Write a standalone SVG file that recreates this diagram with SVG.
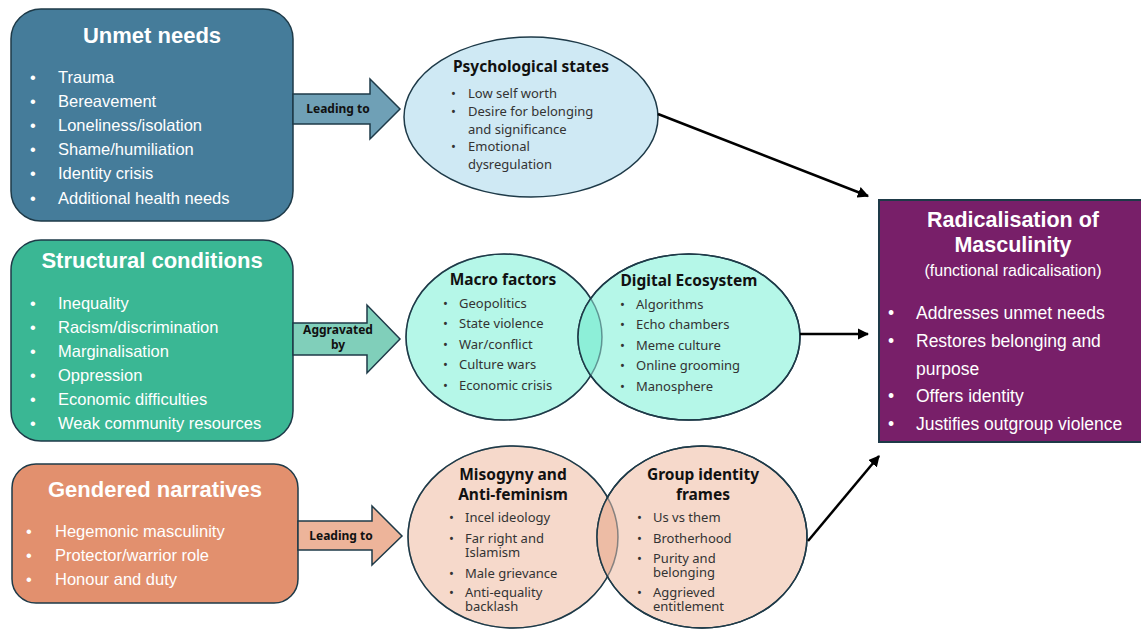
<svg xmlns="http://www.w3.org/2000/svg" width="1141" height="630" viewBox="0 0 1141 630">
<defs>
<marker id="ah" viewBox="0 0 10 10" refX="9" refY="5" markerWidth="4.5" markerHeight="4.5" orient="auto" markerUnits="strokeWidth">
<path d="M0,0 L10,5 L0,10 z" fill="#000"/>
</marker>
<clipPath id="c2l"><ellipse cx="504" cy="337" rx="98" ry="83"/></clipPath>
<clipPath id="c3l"><ellipse cx="513" cy="537" rx="105" ry="91"/></clipPath>
</defs>
<style>
.box{stroke:#1E3A48;stroke-width:1.5}
.ttl{font-family:"Liberation Sans",Arial,sans-serif;font-weight:bold;fill:#fff;text-anchor:middle}
.bt{font-family:"Liberation Sans",Arial,sans-serif;font-size:16.5px;fill:#fff}
.arr{stroke:#1E3A48;stroke-width:1.5}
.al{font-family:"Noto Sans",sans-serif;font-weight:bold;font-size:12px;fill:#111;text-anchor:middle}
.ell{stroke:#1E3A48;stroke-width:1.5}
.et{font-family:"Noto Sans",sans-serif;font-weight:bold;font-size:15.5px;fill:#111;text-anchor:middle}
.eb{font-family:"Noto Sans",sans-serif;font-size:13px;fill:#333}
.con{stroke:#000;stroke-width:2.5;fill:none;marker-end:url(#ah)}
</style>

<g id="unmet-needs">
<rect class="box" x="11" y="9" width="282" height="212" rx="30" fill="#457C9A"/>
<text class="ttl" x="152" y="43" font-size="22">Unmet needs</text>
<g class="bt">
<text x="30" y="83">•</text><text x="58" y="83">Trauma</text>
<text x="30" y="107">•</text><text x="58" y="107">Bereavement</text>
<text x="30" y="131">•</text><text x="58" y="131">Loneliness/isolation</text>
<text x="30" y="155">•</text><text x="58" y="155">Shame/humiliation</text>
<text x="30" y="179">•</text><text x="58" y="179">Identity crisis</text>
<text x="30" y="204">•</text><text x="58" y="204">Additional health needs</text>
</g>
</g>

<g id="arrow-leading-1">
<polygon class="arr" points="293,94 370,94 370,79 400,109 370,139 370,124 293,124" fill="#6FA0B6"/>
<text class="al" x="338" y="113">Leading to</text>
</g>

<g id="psychological-states">
<ellipse class="ell" cx="531" cy="117" rx="127" ry="80" fill="#CFE9F4"/>
<text class="et" x="531" y="72">Psychological states</text>
<g class="eb">
<text x="451" y="98">•</text><text x="468" y="98">Low self worth</text>
<text x="451" y="116">•</text><text x="468" y="116">Desire for belonging<tspan x="468" dy="18">and significance</tspan></text>
<text x="451" y="151">•</text><text x="468" y="151">Emotional<tspan x="468" dy="18">dysregulation</tspan></text>
</g>
</g>

<g id="structural-conditions">
<rect class="box" x="11" y="240" width="282" height="201" rx="30" fill="#3AB794"/>
<text class="ttl" x="152" y="268" font-size="22">Structural conditions</text>
<g class="bt">
<text x="30" y="309">•</text><text x="58" y="309">Inequality</text>
<text x="30" y="333">•</text><text x="58" y="333">Racism/discrimination</text>
<text x="30" y="357">•</text><text x="58" y="357">Marginalisation</text>
<text x="30" y="381">•</text><text x="58" y="381">Oppression</text>
<text x="30" y="405">•</text><text x="58" y="405">Economic difficulties</text>
<text x="30" y="429">•</text><text x="58" y="429">Weak community resources</text>
</g>
</g>

<g id="arrow-aggravated">
<polygon class="arr" points="293,323 367,323 367,305 400,339 367,373 367,355 293,355" fill="#80CFBA"/>
<text class="al" x="338" y="334">Aggravated<tspan x="338" dy="15">by</tspan></text>
</g>

<g id="macro-digital">
<ellipse class="ell" cx="504" cy="337" rx="98" ry="83" fill="#B5F7E8"/>
<ellipse class="ell" cx="689" cy="337" rx="111" ry="83" fill="#B5F7E8"/>
<ellipse cx="689" cy="337" rx="111" ry="83" fill="#8DEFD8" clip-path="url(#c2l)"/>
<ellipse cx="504" cy="337" rx="98" ry="83" fill="none" stroke="#1E3A48" stroke-width="1.5" stroke-opacity="0.5"/>
<ellipse cx="689" cy="337" rx="111" ry="83" fill="none" stroke="#1E3A48" stroke-width="1.5"/>
<text class="et" x="503" y="285">Macro factors</text>
<text class="et" x="689" y="286">Digital Ecosystem</text>
<g class="eb">
<text x="443" y="308">•</text><text x="459" y="308">Geopolitics</text>
<text x="443" y="328">•</text><text x="459" y="328">State violence</text>
<text x="443" y="349">•</text><text x="459" y="349">War/conflict</text>
<text x="443" y="369">•</text><text x="459" y="369">Culture wars</text>
<text x="443" y="390">•</text><text x="459" y="390">Economic crisis</text>
<text x="620" y="309">•</text><text x="636" y="309">Algorithms</text>
<text x="620" y="329">•</text><text x="636" y="329">Echo chambers</text>
<text x="620" y="350">•</text><text x="636" y="350">Meme culture</text>
<text x="620" y="370">•</text><text x="636" y="370">Online grooming</text>
<text x="620" y="391">•</text><text x="636" y="391">Manosphere</text>
</g>
</g>

<g id="gendered-narratives">
<rect class="box" x="12" y="464" width="286" height="139" rx="24" fill="#E2906E"/>
<text class="ttl" x="155" y="497" font-size="22">Gendered narratives</text>
<g class="bt">
<text x="26" y="537">•</text><text x="55" y="537">Hegemonic masculinity</text>
<text x="26" y="561">•</text><text x="55" y="561">Protector/warrior role</text>
<text x="26" y="585">•</text><text x="55" y="585">Honour and duty</text>
</g>
</g>

<g id="arrow-leading-3">
<polygon class="arr" points="298,521 372,521 372,506 402,536 372,565 372,550 298,550" fill="#EDB49A"/>
<text class="al" x="341" y="540">Leading to</text>
</g>

<g id="misogyny-group">
<ellipse class="ell" cx="513" cy="537" rx="105" ry="91" fill="#F6D9CB"/>
<ellipse class="ell" cx="702" cy="537" rx="105" ry="91" fill="#F6D9CB"/>
<ellipse cx="702" cy="537" rx="105" ry="91" fill="#EDBCA5" clip-path="url(#c3l)"/>
<ellipse cx="513" cy="537" rx="105" ry="91" fill="none" stroke="#1E3A48" stroke-width="1.5" stroke-opacity="0.5"/>
<ellipse cx="702" cy="537" rx="105" ry="91" fill="none" stroke="#1E3A48" stroke-width="1.5"/>
<text class="et" x="513" y="480">Misogyny and<tspan x="513" dy="20">Anti-feminism</tspan></text>
<text class="et" x="703" y="480">Group identity<tspan x="703" dy="20">frames</tspan></text>
<g class="eb">
<text x="449" y="522">•</text><text x="465" y="522">Incel ideology</text>
<text x="449" y="543">•</text><text x="465" y="543">Far right and<tspan x="465" dy="14">Islamism</tspan></text>
<text x="449" y="578">•</text><text x="465" y="578">Male grievance</text>
<text x="449" y="597">•</text><text x="465" y="597">Anti-equality<tspan x="465" dy="14">backlash</tspan></text>
<text x="637" y="522">•</text><text x="653" y="522">Us vs them</text>
<text x="637" y="543">•</text><text x="653" y="543">Brotherhood</text>
<text x="637" y="563">•</text><text x="653" y="563">Purity and<tspan x="653" dy="14">belonging</tspan></text>
<text x="637" y="597">•</text><text x="653" y="597">Aggrieved<tspan x="653" dy="14">entitlement</tspan></text>
</g>
</g>

<g id="radicalisation">
<rect x="879" y="200" width="265" height="242" fill="#781F69" stroke="#1E3A48" stroke-width="2"/>
<text class="ttl" x="1013" y="227" font-size="21.5">Radicalisation of<tspan x="1013" dy="25">Masculinity</tspan></text>
<text x="1013" y="276" font-family="Liberation Sans,Arial,sans-serif" font-size="16" fill="#fff" text-anchor="middle">(functional radicalisation)</text>
<g font-family="Liberation Sans,Arial,sans-serif" font-size="17.5" fill="#fff">
<text x="888" y="319">•</text><text x="916" y="319">Addresses unmet needs</text>
<text x="888" y="347">•</text><text x="916" y="347">Restores belonging and<tspan x="916" dy="28">purpose</tspan></text>
<text x="888" y="402">•</text><text x="916" y="402">Offers identity</text>
<text x="888" y="430">•</text><text x="916" y="430">Justifies outgroup violence</text>
</g>
</g>

<g id="connectors">
<line class="con" x1="658" y1="114" x2="868" y2="196"/>
<line class="con" x1="800" y1="334" x2="868" y2="334"/>
<line class="con" x1="808" y1="541" x2="879" y2="456"/>
</g>
</svg>
